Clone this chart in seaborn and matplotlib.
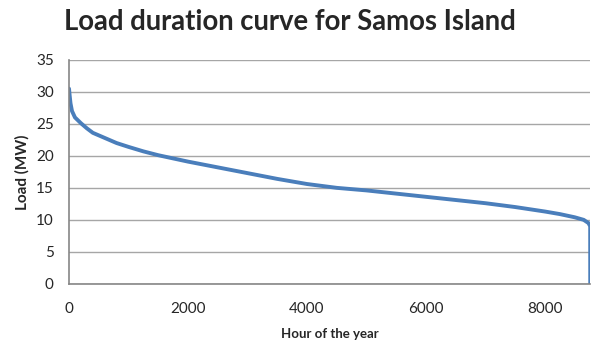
import pandas as pd
import matplotlib.pyplot as plt
import seaborn as sns

# load duration curve (hours sorted by load)
hours = [0, 10, 25, 50, 100, 200, 300, 400, 600, 800, 1000, 1250, 1500, 1750,
         2000, 2500, 3000, 3500, 4000, 4500, 5000, 5500, 6000, 6500, 7000,
         7500, 8000, 8250, 8500, 8650, 8730, 8759, 8760]
load_mw = [30.5, 29.5, 28.2, 27.0, 26.0, 25.1, 24.3, 23.6, 22.8, 22.0, 21.4,
           20.7, 20.1, 19.6, 19.1, 18.2, 17.3, 16.4, 15.6, 15.0, 14.6, 14.1,
           13.6, 13.1, 12.6, 12.0, 11.3, 10.9, 10.4, 10.0, 9.5, 9.0, 0.0]
y_ticks = [0, 5, 10, 15, 20, 25, 30, 35]
x_ticks = [0, 2000, 4000, 6000, 8000]

df = pd.DataFrame({'Hour': hours, 'Load': load_mw})

sns.set_style('white')
plt.rcParams['font.family'] = ['Lato', 'DejaVu Sans']

fig = plt.figure(figsize=(5.95, 3.42), dpi=100)
ax = fig.add_axes([0.116, 0.170, 0.876, 0.655])

sns.lineplot(data=df, x='Hour', y='Load', ax=ax, color='#4A7EBB', lw=2.8,
             sort=False, estimator=None)

ax.set_xlim(0, 8760)
ax.set_ylim(0, 35)
ax.set_yticks(y_ticks)
ax.set_xticks(x_ticks)
ax.yaxis.grid(True, color='#a6a6a6', lw=1)
ax.xaxis.grid(False)
ax.tick_params(length=0, labelsize=11)
ax.tick_params(axis='x', pad=13)
ax.tick_params(axis='y', pad=11)

for s in ['top', 'right']:
    ax.spines[s].set_visible(False)
for s in ['left', 'bottom']:
    ax.spines[s].set_color('#868686')
    ax.spines[s].set_linewidth(1.2)

ax.set_xlabel('Hour of the year', fontsize=9.5, fontweight='bold', va='center')
ax.set_ylabel('Load (MW)', fontsize=11, fontweight='bold', va='center')
ax.xaxis.set_label_coords(0.5, -0.225)
ax.yaxis.set_label_coords(-0.09, 0.5)
fig.text(0.487, 0.935, 'Load duration curve for Samos Island', ha='center',
         va='center', fontsize=19.8, fontweight='bold')

plt.savefig('out.png', dpi=100)
